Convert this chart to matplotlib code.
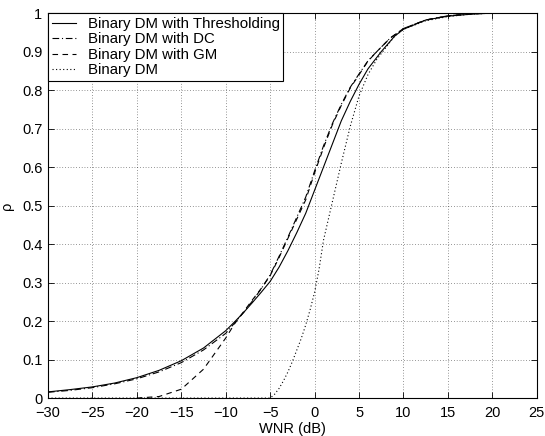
import matplotlib
matplotlib.use("Agg")
import matplotlib.pyplot as plt
import numpy as np

plt.rcParams['font.family'] = ['Liberation Sans', 'DejaVu Sans']

# --- values ---
wnr_thr = [-30, -27.5, -25, -22.5, -20, -17.5, -15, -12.5, -10, -9, -8, -7, -6,
           -5, -4, -3, -2, -1, 0, 1, 2, 3, 4, 5, 6, 7.5, 9, 10, 12.5, 15,
           17.5, 20, 25]
rho_thr = [0.016, 0.022, 0.029, 0.039, 0.053, 0.072, 0.097, 0.13, 0.175,
           0.198, 0.222, 0.248, 0.275, 0.303, 0.34, 0.383, 0.43, 0.48, 0.54,
           0.6, 0.66, 0.72, 0.77, 0.815, 0.855, 0.9, 0.94, 0.958, 0.982,
           0.992, 0.997, 1.0, 1.0]

wnr_dc = [-30, -27.5, -25, -22.5, -20, -17.5, -15, -12.5, -10, -9, -8, -7,
          -6, -5, -4, -3, -2, -1, 0, 1, 2, 3, 4, 5, 6, 7, 8.5, 10, 12.5, 15,
          17.5, 20, 25]
rho_dc = [0.015, 0.02, 0.027, 0.037, 0.05, 0.068, 0.092, 0.125, 0.168, 0.195,
          0.222, 0.252, 0.284, 0.32, 0.368, 0.418, 0.47, 0.522, 0.59, 0.655,
          0.713, 0.763, 0.807, 0.842, 0.876, 0.9, 0.935, 0.96, 0.982, 0.993,
          0.998, 1.0, 1.0]

wnr_gm = [-20, -17.5, -15, -12.5, -10, -9, -8, -7, -6, -5, -4, -3, -2, -1, 0,
          1, 2, 3, 4, 5, 6, 7, 8.5, 10, 12.5, 15, 17.5, 20, 25]
rho_gm = [0.0, 0.004, 0.023, 0.075, 0.156, 0.193, 0.224, 0.255, 0.285, 0.318,
          0.365, 0.415, 0.465, 0.515, 0.585, 0.65, 0.71, 0.76, 0.805, 0.84,
          0.875, 0.9, 0.935, 0.96, 0.982, 0.993, 0.998, 1.0, 1.0]

wnr_bin = [-30, -5, -4.5, -4, -3.5, -3, -2.5, -2, -1.5, -1, -0.5, 0, 0.5, 1,
           2, 3, 4, 5, 6, 7, 8, 9, 10, 12.5, 15, 17.5, 20, 25]
rho_bin = [0.0, 0.0, 0.01, 0.025, 0.045, 0.068, 0.095, 0.125, 0.155, 0.19,
           0.23, 0.275, 0.335, 0.41, 0.51, 0.61, 0.705, 0.785, 0.84, 0.88,
           0.91, 0.94, 0.958, 0.98, 0.991, 0.997, 1.0, 1.0]

labels = ["Binary DM with Thresholding", "Binary DM with DC",
          "Binary DM with GM", "Binary DM"]

fig = plt.figure(figsize=(5.45, 4.36), dpi=100)
ax = fig.add_axes([0.088, 0.087, 0.897, 0.883])

ax.plot(wnr_thr, rho_thr, '-', color='black', lw=0.8, label=labels[0])
ax.plot(wnr_dc, rho_dc, color='black', lw=0.8, linestyle=(0, (6, 2.5, 1, 2.5)),
        label=labels[1])
ax.plot(wnr_gm, rho_gm, color='black', lw=0.8, linestyle=(0, (5, 4)),
        label=labels[2])
ax.plot(wnr_bin, rho_bin, color='black', lw=0.8, linestyle=(0, (1, 2.2)),
        label=labels[3])

ax.set_xlim(-30, 25)
ax.set_ylim(0, 1)
ax.set_xticks(np.arange(-30, 26, 5))
ax.set_yticks(np.arange(0, 1.01, 0.1))
ax.set_yticklabels(["0", "0.1", "0.2", "0.3", "0.4", "0.5", "0.6", "0.7",
                    "0.8", "0.9", "1"])
ax.grid(True, linestyle=(0, (1, 3)), color='black', lw=0.5, alpha=0.8)
ax.tick_params(direction='in', top=True, right=True, labelsize=10.5,
               length=4, width=0.6)
ax.tick_params(axis='x', pad=6)
ax.tick_params(axis='y', pad=4)
for s in ax.spines.values():
    s.set_linewidth(0.8)

ax.set_xlabel("WNR (dB)", fontsize=10.5, labelpad=1)
ax.set_ylabel("ρ", fontsize=10.5, labelpad=6)

leg = ax.legend(loc='upper left', fontsize=10.8, frameon=True, fancybox=False,
                borderaxespad=0, handlelength=1.65, borderpad=0.25,
                labelspacing=0.1, handletextpad=0.75)
leg.get_frame().set_edgecolor('black')
leg.get_frame().set_linewidth(0.8)
leg.get_frame().set_alpha(1)

fig.savefig("out.png", dpi=100)
